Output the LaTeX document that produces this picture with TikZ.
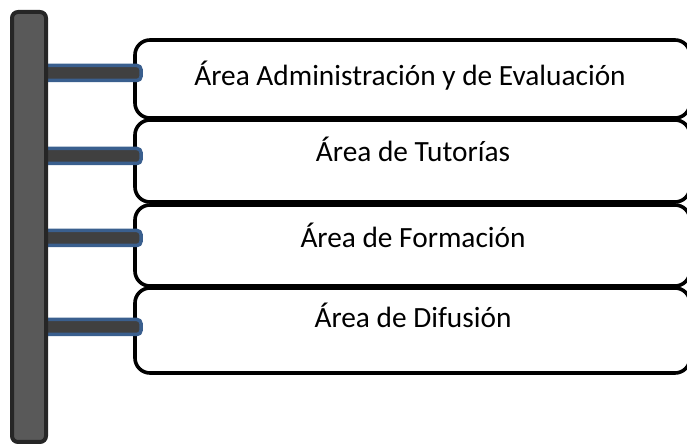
\documentclass[tikz,border=0pt]{standalone}
\usepackage{fontspec}
\setmainfont{Carlito}
\definecolor{barfill}{HTML}{595959}
\definecolor{barline}{HTML}{262626}
\definecolor{connfill}{HTML}{404040}
\definecolor{connline}{HTML}{3A5F8E}
\newcommand{\pxu}{0.75pt}
\begin{document}
\begin{tikzpicture}[x=0.75pt,y=-0.75pt,
  areabox/.style={draw=black, fill=white, line width=3.6*\pxu, rounded corners=15*\pxu,
    rectangle, inner sep=0pt, outer sep=0pt, minimum width=555*\pxu},
  connbar/.style={draw=connline, fill=connfill, line width=3.5*\pxu, rounded corners=4*\pxu,
    rectangle, inner sep=0pt, outer sep=0pt, minimum height=15*\pxu, minimum width=98*\pxu},
  mainbar/.style={draw=barline, fill=barfill, line width=4*\pxu, rounded corners=6*\pxu,
    rectangle, inner sep=0pt, outer sep=0pt, minimum width=34*\pxu, minimum height=430*\pxu},
  lbl/.style={font=\fontsize{22}{26}\selectfont, inner sep=0pt, anchor=base}]
\useasboundingbox (0,0) rectangle (687,445);
\clip (0,0) rectangle (687,445);
% boxes
\node[areabox, minimum height=78*\pxu] (b1) at (412.5,79) {};
\node[areabox, minimum height=82*\pxu] (b2) at (412.5,161) {};
\node[areabox, minimum height=81*\pxu] (b3) at (412.5,245.5) {};
\node[areabox, minimum height=85*\pxu] (b4) at (412.5,330.5) {};
% labels
\node[lbl] (t1) at (410,86) {Área Administración y de Evaluación};
\node[lbl] (t2) at (413,162) {Área de Tutorías};
\node[lbl] (t3) at (413,248) {Área de Formación};
\node[lbl] (t4) at (413,328) {Área de Difusión};
% connectors
\node[connbar] (c1) at (92,73) {};
\node[connbar] (c2) at (92,156) {};
\node[connbar] (c3) at (92,238) {};
\node[connbar] (c4) at (92,327) {};
% vertical bar
\node[mainbar] (bar) at (29,227) {};
\end{tikzpicture}
\end{document}
